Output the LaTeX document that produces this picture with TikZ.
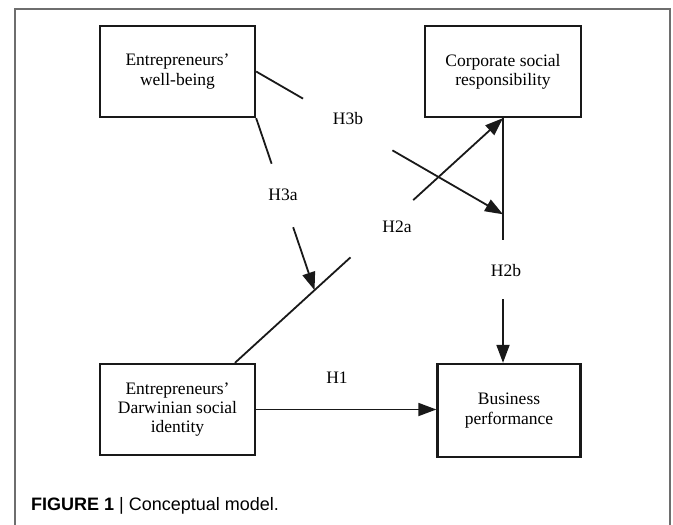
\documentclass[tikz,border=0pt]{standalone}
\usepackage{fontspec}
\setmainfont{Liberation Serif}
\newfontfamily\capfont{Liberation Sans}
\usetikzlibrary{arrows.meta,calc}
\definecolor{framegray}{RGB}{110,110,110}
\definecolor{ink}{RGB}{25,25,25}
\begin{document}
\begin{tikzpicture}[x=1pt,y=-1pt,
  box/.style={draw=ink,line width=2.3pt,align=center,inner sep=0pt,
    font=\fontsize{17.5}{19.2}\selectfont},
  lab/.style={inner sep=0pt,font=\fontsize{17.5}{19.2}\selectfont},
  conn/.style={draw=ink,line width=1.8pt},
  arr/.style={conn,-{Triangle[length=18pt,width=13pt]}},
  frame/.style={draw=framegray,line width=1.1pt}]
\useasboundingbox (0,0) rectangle (673,525);
\draw[frame] (15,525) -- (15,9) -- (670,9) -- (670,525);
% boxes
\node[box,minimum width=155pt,minimum height=91pt] (A) at (177.5,71.5) {Entrepreneurs’\\well-being};
\node[box,minimum width=156pt,minimum height=91pt] (C) at (503,71.5) {Corporate social\\responsibility};
\node[box,minimum width=155pt,minimum height=91pt] (D) at (177.5,409.5) {Entrepreneurs’\\Darwinian social\\identity};
\node[box,minimum width=143pt,minimum height=93pt] (B) at (509,410.5) {Business\\performance};
% key points
\coordinate (cs) at (C.south);
\coordinate (bt) at (C.south |- B.north);
\coordinate (ds) at ($(D.north west)!0.865!(D.north east)$);
\coordinate (m) at ($(ds)!0.297!(cs)$);
\coordinate (t3b) at ($(cs)!0.393!(bt)$);
% H1
\draw[arr] (D.east) -- (D.east -| B.west);
\node[lab] (h1) at (337,378) {H1};
% H2a
\draw[conn] (ds) -- ($(ds)!0.431!(cs)$);
\draw[arr] ($(ds)!0.665!(cs)$) -- (cs);
\node[lab] (h2a) at (397,227) {H2a};
% H2b
\draw[conn] (cs) -- ($(cs)!0.498!(bt)$);
\draw[arr] ($(cs)!0.741!(bt)$) -- (bt);
\node[lab] (h2b) at (506,271) {H2b};
% H3a
\draw[conn] (A.south east) -- ($(A.south east)!0.265!(m)$);
\draw[arr] ($(A.south east)!0.634!(m)$) -- (m);
\node[lab] (h3a) at (283,195) {H3a};
% H3b
\draw[conn] (A.east) -- ($(A.east)!0.19!(t3b)$);
\draw[arr] ($(A.east)!0.552!(t3b)$) -- (t3b);
\node[lab] (h3b) at (348,119) {H3b};
% caption
\node[anchor=base west,inner sep=0pt,font=\capfont\fontsize{18}{20}\selectfont] (cap) at (31,510)
  {\textbf{FIGURE 1} | Conceptual model.};
\end{tikzpicture}
\end{document}
